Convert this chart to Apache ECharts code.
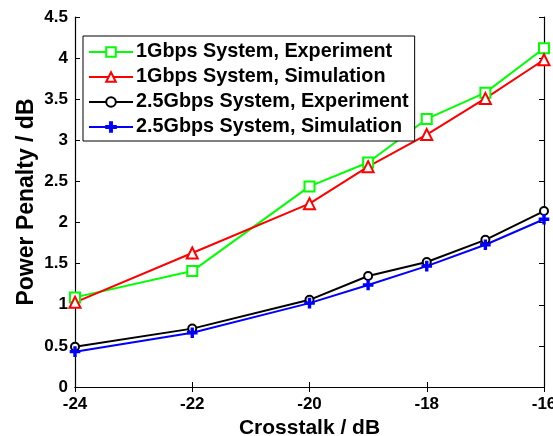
<!DOCTYPE html>
<html>
<head>
<meta charset="utf-8">
<script src="https://cdn.jsdelivr.net/npm/echarts@6/dist/echarts.min.js"></script>
<style>
  html, body { margin: 0; padding: 0; background: #fff; }
  #chart { width: 553px; height: 436px; }
</style>
</head>
<body>
<div id="chart"></div>
<script>
// crosstalk (dB) on x, power penalty (dB) on y
const crosstalk = [-24, -22, -20, -19, -18, -17, -16];
const exp1G = [1.09, 1.41, 2.44, 2.73, 3.26, 3.58, 4.12];
const sim1G = [1.03, 1.63, 2.23, 2.68, 3.07, 3.51, 3.98];
const exp25G = [0.49, 0.71, 1.06, 1.35, 1.52, 1.79, 2.14];
const sim25G = [0.43, 0.66, 1.02, 1.24, 1.47, 1.73, 2.04];
const seriesNames = [
  "1Gbps System, Experiment",
  "1Gbps System, Simulation",
  "2.5Gbps System, Experiment",
  "2.5Gbps System, Simulation",
];

const FONT = "Arial, 'Liberation Sans', sans-serif";
const plusSymbol = "path://M4,0H6V4H10V6H6V10H4V6H0V4H4Z";

const chart = echarts.init(document.getElementById("chart"));

const toPairs = (ys) => crosstalk.map((x, i) => [x, ys[i]]);

function makeSeries(name, ys, color, symbol, size) {
  return {
    name,
    type: "line",
    data: toPairs(ys),
    symbol,
    symbolSize: size,
    showAllSymbol: true,
    lineStyle: { color, width: 2 },
    itemStyle: { color, borderColor: color, borderWidth: 1.6 },
    emphasis: { disabled: true },
  };
}

const tickLine = { show: true, inside: true, length: 5, lineStyle: { color: "#000", width: 1 } };
const axisLine = { show: true, lineStyle: { color: "#000", width: 1.2 } };
const labelStyle = { fontFamily: FONT, fontWeight: "bold", fontSize: 17, color: "#000" };

const option = {
  animation: false,
  backgroundColor: "#fff",
  grid: { left: 75, right: 9, top: 17, bottom: 49, outerBoundsMode: "none" },
  legend: {
    orient: "vertical",
    left: 83,
    top: 36,
    data: seriesNames,
    backgroundColor: "#fff",
    borderColor: "#000",
    borderWidth: 1,
    padding: [6, 6, 4, 5],
    itemGap: 5,
    itemWidth: 44,
    itemHeight: 12,
    textStyle: {
      fontFamily: FONT,
      fontWeight: "bold",
      fontSize: 19.8,
      lineHeight: 20,
      color: "#000",
      padding: [0, 0, 0, -2],
    },
  },
  xAxis: [
    {
      type: "value",
      min: -24,
      max: -16,
      interval: 2,
      name: "Crosstalk / dB",
      nameLocation: "middle",
      nameGap: 26,
      nameTextStyle: { fontFamily: FONT, fontWeight: "bold", fontSize: 21, color: "#000" },
      axisLine,
      axisTick: tickLine,
      axisLabel: { ...labelStyle, margin: 9 },
      splitLine: { show: false },
    },
    {
      type: "value",
      position: "top",
      min: -24,
      max: -16,
      interval: 2,
      axisLine,
      axisTick: tickLine,
      axisLabel: { show: false },
      splitLine: { show: false },
    },
  ],
  yAxis: [
    {
      type: "value",
      min: 0,
      max: 4.5,
      interval: 0.5,
      name: "Power Penalty / dB",
      nameLocation: "middle",
      nameGap: 37,
      nameMoveOverlap: false,
      nameTextStyle: { fontFamily: FONT, fontWeight: "bold", fontSize: 23, color: "#000" },
      axisLine,
      axisTick: tickLine,
      axisLabel: { ...labelStyle, margin: 7 },
      splitLine: { show: false },
    },
    {
      type: "value",
      position: "right",
      min: 0,
      max: 4.5,
      interval: 0.5,
      axisLine,
      axisTick: tickLine,
      axisLabel: { show: false },
      splitLine: { show: false },
    },
  ],
  series: [
    makeSeries(seriesNames[0], exp1G, "#00ff00", "emptyRect", 10),
    makeSeries(seriesNames[1], sim1G, "#ff0000", "emptyTriangle", 11),
    makeSeries(seriesNames[2], exp25G, "#000000", "emptyCircle", 8),
    makeSeries(seriesNames[3], sim25G, "#0000ff", plusSymbol, 9),
  ],
};

chart.setOption(option);
</script>
</body>
</html>
